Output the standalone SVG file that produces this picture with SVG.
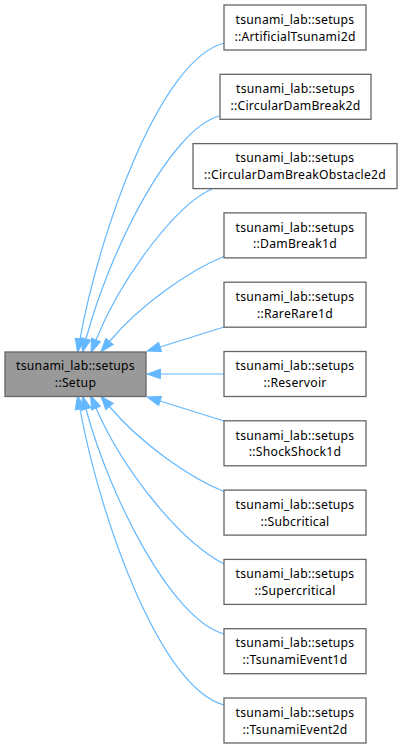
<svg xmlns="http://www.w3.org/2000/svg" width="402" height="749" viewBox="0 0 402 749">
<style>
  .node rect { fill: #ffffff; stroke: #666666; stroke-width: 1.3; }
  .node.base rect { fill: #999999; }
  .node text { font-family: "Noto Sans", "DejaVu Sans", sans-serif; font-size: 12.2px; letter-spacing: 0.25px; fill: #000000; text-anchor: middle; }
  .edge { fill: none; stroke: #63b8ff; stroke-width: 1.2; marker-end: url(#arrow); }
</style>
<defs>
  <marker id="arrow" markerUnits="userSpaceOnUse" viewBox="0 -6 14 12" refX="0" refY="0" markerWidth="14" markerHeight="12" orient="auto" overflow="visible">
    <path d="M0,-4.8 L13.5,0 L0,4.8 z" fill="#63b8ff" stroke="#63b8ff" stroke-width="1"/>
  </marker>
</defs>
<rect width="402" height="749" fill="#ffffff"/>
<g id="connectors">
  <path class="edge" d="M224,43 C160,60 100,230 80,339"/>
  <path class="edge" d="M219,116 C170,130 110,250 86,339"/>
  <path class="edge" d="M212,189 C175,205 120,280 96,340"/>
  <path class="edge" d="M225,256 C190,270 140,305 109.5,341.5"/>
  <path class="edge" d="M224,327 L160,347"/>
  <path class="edge" d="M224,374 L160.5,374"/>
  <path class="edge" d="M224,421 L160,401"/>
  <path class="edge" d="M225,492 C190,478 140,443 109.5,406.5"/>
  <path class="edge" d="M224,564 C178,540 122,468 96,408"/>
  <path class="edge" d="M224,634 C172,620 110,498 86,409"/>
  <path class="edge" d="M224,705 C160,688 100,518 80,409"/>
</g>
<g id="node-Setup" class="node base">
  <rect x="5" y="352" width="141" height="44.5"/>
  <text x="75.5" y="370.2">tsunami_lab::setups</text>
  <text x="75.5" y="387">::Setup</text>
</g>
<g id="node-ArtificialTsunami2d" class="node">
  <rect x="224" y="5" width="142" height="45"/>
  <text x="295" y="23.7">tsunami_lab::setups</text>
  <text x="295" y="40.5">::ArtificialTsunami2d</text>
</g>
<g id="node-CircularDamBreak2d" class="node">
  <rect x="220" y="74.3" width="151" height="45"/>
  <text x="295.5" y="93">tsunami_lab::setups</text>
  <text x="295.5" y="109.8">::CircularDamBreak2d</text>
</g>
<g id="node-CircularDamBreakObstacle2d" class="node">
  <rect x="193" y="143.6" width="204" height="45"/>
  <text x="295" y="162.3">tsunami_lab::setups</text>
  <text x="295" y="179.1">::CircularDamBreakObstacle2d</text>
</g>
<g id="node-DamBreak1d" class="node">
  <rect x="224" y="212.9" width="142" height="45"/>
  <text x="295" y="231.6">tsunami_lab::setups</text>
  <text x="295" y="248.4">::DamBreak1d</text>
</g>
<g id="node-RareRare1d" class="node">
  <rect x="224" y="282.2" width="142" height="45"/>
  <text x="295" y="300.9">tsunami_lab::setups</text>
  <text x="295" y="317.7">::RareRare1d</text>
</g>
<g id="node-Reservoir" class="node">
  <rect x="224" y="351.5" width="142" height="45"/>
  <text x="295" y="370.2">tsunami_lab::setups</text>
  <text x="295" y="387">::Reservoir</text>
</g>
<g id="node-ShockShock1d" class="node">
  <rect x="224" y="420.8" width="142" height="45"/>
  <text x="295" y="439.5">tsunami_lab::setups</text>
  <text x="295" y="456.3">::ShockShock1d</text>
</g>
<g id="node-Subcritical" class="node">
  <rect x="224" y="490.1" width="142" height="45"/>
  <text x="295" y="508.8">tsunami_lab::setups</text>
  <text x="295" y="525.6">::Subcritical</text>
</g>
<g id="node-Supercritical" class="node">
  <rect x="224" y="559.4" width="142" height="45"/>
  <text x="295" y="578.1">tsunami_lab::setups</text>
  <text x="295" y="594.9">::Supercritical</text>
</g>
<g id="node-TsunamiEvent1d" class="node">
  <rect x="224" y="628.7" width="142" height="45"/>
  <text x="295" y="647.4">tsunami_lab::setups</text>
  <text x="295" y="664.2">::TsunamiEvent1d</text>
</g>
<g id="node-TsunamiEvent2d" class="node">
  <rect x="224" y="698" width="142" height="45"/>
  <text x="295" y="716.7">tsunami_lab::setups</text>
  <text x="295" y="733.5">::TsunamiEvent2d</text>
</g>
</svg>
